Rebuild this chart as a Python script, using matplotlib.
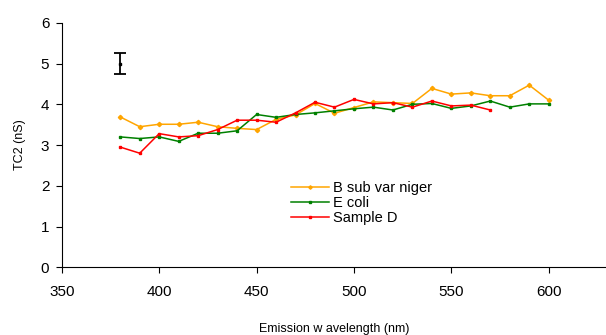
import matplotlib
matplotlib.use("Agg")
import matplotlib.pyplot as plt

plt.rcParams["font.family"] = ["Liberation Sans", "DejaVu Sans"]

# emission wavelength (nm)
wl = [380, 390, 400, 410, 420, 430, 440, 450, 460, 470, 480, 490, 500,
      510, 520, 530, 540, 550, 560, 570, 580, 590, 600]
b_sub = [3.69, 3.45, 3.51, 3.51, 3.56, 3.45, 3.41, 3.38, 3.63, 3.74, 4.02, 3.78,
         3.92, 4.06, 4.04, 4.02, 4.39, 4.25, 4.28, 4.21, 4.21, 4.47, 4.10]
e_coli = [3.20, 3.16, 3.20, 3.09, 3.29, 3.29, 3.35, 3.75, 3.68, 3.75, 3.79, 3.84,
          3.89, 3.93, 3.86, 4.00, 4.02, 3.90, 3.96, 4.08, 3.93, 4.01, 4.01]
wl_d = wl[:20]
sample_d = [2.95, 2.80, 3.28, 3.20, 3.23, 3.38, 3.61, 3.61, 3.56, 3.79, 4.05, 3.93,
            4.12, 4.01, 4.04, 3.93, 4.08, 3.96, 3.98, 3.86]
# representative error bar
err_x, err_y, err_h = 380, 5.0, 0.25

fig = plt.figure(figsize=(6.06, 3.35), dpi=100)
ax = fig.add_axes([0.102, 0.202, 0.898, 0.730])

ax.plot(wl, b_sub, color="#FFA500", lw=1.1, marker="D", ms=2.2, label="B sub var niger")
ax.plot(wl, e_coli, color="#008000", lw=1.1, marker="s", ms=2.0, label="E coli")
ax.plot(wl_d, sample_d, color="#FF0000", lw=1.1, marker="s", ms=2.0, label="Sample D")
ax.errorbar([err_x], [err_y], yerr=[err_h], fmt="s", color="black", ms=2.0,
            elinewidth=1.3, capsize=4, capthick=1.3)

ax.set_xlim(350, 629.4)
ax.set_ylim(0, 6)
ax.set_xticks([350, 400, 450, 500, 550, 600])
ax.set_yticks(range(7))
for s in ("top", "right"):
    ax.spines[s].set_visible(False)
ax.tick_params(axis="both", labelsize=11, length=4, width=0.8, direction="out")
ax.tick_params(axis="x", pad=9)
ax.tick_params(axis="y", pad=5)
ax.set_xlabel("Emission w avelength (nm)", fontsize=9, labelpad=17)
ax.set_ylabel("TC2 (nS)", fontsize=9, labelpad=11)

ax.legend(loc="upper left", bbox_to_anchor=(0.41, 0.375), frameon=False,
          fontsize=10.5, handlelength=2.6, handletextpad=0.3, labelspacing=0.05,
          borderaxespad=0, markerscale=0.8)

fig.savefig("out.png", dpi=100)
